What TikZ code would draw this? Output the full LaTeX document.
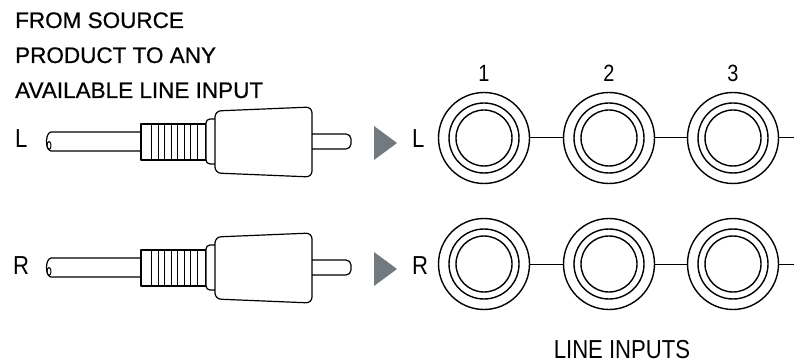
\documentclass[tikz,border=0pt]{standalone}
\usepackage{fontspec}
\setmainfont{Liberation Sans}
\newfontfamily\condfont[FakeStretch=0.85]{Liberation Sans}
\newfontfamily\headfont[FakeBold=0.6]{Liberation Sans}
\definecolor{arrowgrey}{HTML}{72797F}
\begin{document}
\begin{tikzpicture}[x=1pt,y=-1pt,line join=round]
 	\def \rowoneht{138}
 	\def \rowtwoht{264}
 	\tikzstyle{jack-node}=[circle,draw=black,line width=1.4pt,inner sep=0pt,minimum size=91pt]
 	\tikzstyle{ring}=[draw=black,line width=1.4pt]
 	\tikzstyle{annot}=[font=\condfont\fontsize{26}{26}\selectfont,anchor=base west,inner sep=0pt]
 	\tikzstyle{num}=[font=\condfont\fontsize{23.5}{23.5}\selectfont,anchor=base,inner sep=0pt]
 	\tikzstyle{head}=[font=\headfont\fontsize{22.5}{22.5}\selectfont,anchor=base west,inner sep=0pt]
 	\tikzstyle{link}=[draw=black,line width=1pt]
 	\tikzstyle{plug}=[draw=black,line width=1.2pt]
 	\def \rcaplug{
 		\draw[plug] (141,132) -- (51,132) .. controls (45,133) and (45,150) .. (51,151) -- (141,151);
 		\draw[plug,line width=1pt] (49,145.5) ellipse [x radius=2, y radius=4];
 		\draw[plug,fill=white] (141,124) rectangle (206,160);
 		\foreach \x in {151.5,158,...,197} \draw[line width=1pt] (\x,124) -- (\x,160);
 		\draw[plug,rounded corners=4,fill=white] (215,119) -- (206,119) -- (206,164) -- (215,164);
 		\draw[plug,rounded corners=6,fill=white] (215,142) -- (215,111) -- (312,107) -- (312,177) -- (215,173) -- cycle;
 		\draw[plug,rounded corners=5] (312,134) -- (351,134) -- (351,149) -- (312,149);
 		\fill[arrowgrey] (374,126) -- (397,143) -- (374,160) -- cycle;
 	}
 	\useasboundingbox (0,0) rectangle (794,363);
 	\node[head] (src1) at (15,28) {FROM SOURCE};
 	\node[head] (src2) at (15,63) {PRODUCT TO ANY};
 	\node[head] (src3) at (15,98) {AVAILABLE LINE INPUT};
 	% plugs
 	\rcaplug
 	\begin{scope}[yshift=-126pt]
 		\rcaplug
 	\end{scope}
 	\node[annot] (plug-l) at (15,148) {L};
 	\node[annot] (plug-r) at (13,274) {R};
 	\node[annot] (in-l) at (412,148) {L};
 	\node[annot] (in-r) at (412,274) {R};
 	% jacks
 	\node[jack-node] (l1) at (484,\rowoneht) {};
 	\node[jack-node] (l2) at (609,\rowoneht) {};
 	\node[jack-node] (l3) at (733,\rowoneht) {};
 	\node[jack-node] (r1) at (484,\rowtwoht) {};
 	\node[jack-node] (r2) at (609,\rowtwoht) {};
 	\node[jack-node] (r3) at (733,\rowtwoht) {};
 	\draw[ring] (l1.center) circle [radius=35] (l1.center) circle [radius=28];
 	\draw[ring] (l2.center) circle [radius=35] (l2.center) circle [radius=28];
 	\draw[ring] (l3.center) circle [radius=35] (l3.center) circle [radius=28];
 	\draw[ring] (r1.center) circle [radius=35] (r1.center) circle [radius=28];
 	\draw[ring] (r2.center) circle [radius=35] (r2.center) circle [radius=28];
 	\draw[ring] (r3.center) circle [radius=35] (r3.center) circle [radius=28];
 	\coordinate (l-end) at (794,\rowoneht);
 	\coordinate (r-end) at (794,\rowtwoht);
 	\path[link] (l1) edge (l2)
 		(l2) edge (l3)
 		(l3) edge (l-end)
 		(r1) edge (r2)
 		(r2) edge (r3)
 		(r3) edge (r-end);
 	\node[num] (n1) at (484,82) {1};
 	\node[num] (n2) at (609,82) {2};
 	\node[num] (n3) at (733,82) {3};
 	\node[annot,anchor=base,text depth=0pt] (inputs) at (622,358.5) {LINE INPUTS};
\end{tikzpicture}
\end{document}
